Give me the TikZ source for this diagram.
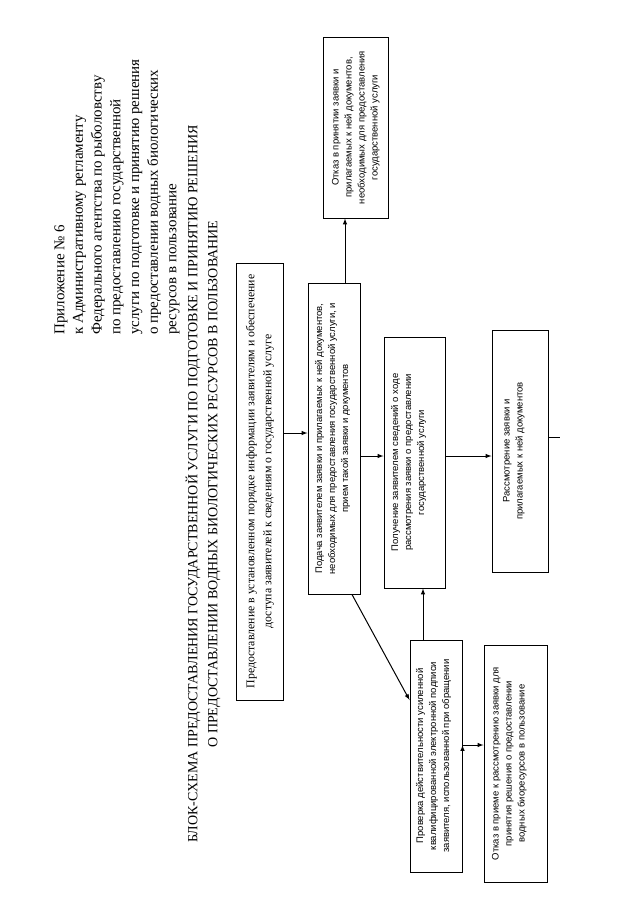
\documentclass[tikz,border=0pt]{standalone}
\usepackage{fontspec}
\setmainfont{Liberation Serif}
\setsansfont{Liberation Sans}
\usepackage{graphicx}
\usepackage{tikz}
\usetikzlibrary{positioning, calc, arrows}

% text turned on its side inside a box: box width, box length, top gap, text
\newcommand{\sidetext}[4]{\rotatebox{90}{\parbox[c][#1][t]{#2}{\centering\vspace*{#3}#4\par}}}

\begin{document}
\begin{tikzpicture}[x=1pt, y=-1pt, >=latex,
    stage node/.style={draw, rectangle, inner sep=0pt, line width=1pt, font=\sffamily\fontsize{9.5}{13}\selectfont},
    link/.style={draw, ->, line width=1pt}]

		\fill[white] (0,0) rectangle (640,905);
		\useasboundingbox (0,0) rectangle (640,905);

		% Header
		\node[anchor=south west, inner sep=0pt, font=\fontsize{15}{18.7}\selectfont] (header) at (51,335) {\rotatebox{90}{\begin{tabular}{@{}l@{}}Приложение № 6\\ к Административному регламенту\\ Федерального агентства по рыболовству\\ по предоставлению государственной\\ услуги по подготовке и принятию решения\\ о предоставлении водных биологических\\ ресурсов в пользование\end{tabular}}};

		\node[inner sep=0pt, font=\fontsize{14}{20}\selectfont] (title) at (203,484) {\rotatebox{90}{\parbox{800pt}{\centering БЛОК-СХЕМА ПРЕДОСТАВЛЕНИЯ ГОСУДАРСТВЕННОЙ УСЛУГИ ПО ПОДГОТОВКЕ И ПРИНЯТИЮ РЕШЕНИЯ\\ О ПРЕДОСТАВЛЕНИИ ВОДНЫХ БИОЛОГИЧЕСКИХ РЕСУРСОВ В ПОЛЬЗОВАНИЕ}}};

		% Nodes
		\node[stage node, font=\rmfamily\fontsize{11.8}{17}\selectfont] (info) at (259.5,481.5) {\sidetext{47pt}{437pt}{10pt}{Предоставление в установленном порядке информации заявителям и обеспечение\\ доступа заявителей к сведениям о государственной услуге}};
		\node[stage node] (submit) at (334,438.5) {\sidetext{52pt}{311pt}{7pt}{Подача заявителем заявки и прилагаемых к ней документов,\\ необходимых для предоставления государственной услуги, и\\ прием такой заявки и документов}};
		\node[stage node] (refuse) at (355.5,127.5) {\sidetext{65pt}{181pt}{9pt}{Отказ в принятии заявки и\\ прилагаемых к ней документов,\\ необходимых для предоставления\\ государственной услуги}};
		\node[stage node] (status) at (414.5,462.5) {\sidetext{61pt}{251pt}{7pt}{Получение заявителем сведений о ходе\\ рассмотрения заявки о предоставлении\\ государственной услуги}};
		\node[stage node] (review) at (520,451) {\sidetext{56pt}{242pt}{11pt}{Рассмотрение заявки и\\ прилагаемых к ней документов}};
		\node[stage node] (check) at (436,756) {\sidetext{52pt}{232pt}{6pt}{Проверка действительности усиленной\\ квалифицированной электронной подписи\\ заявителя, использованной при обращении}};
		\node[stage node] (reject) at (515.5,763.5) {\sidetext{63pt}{237pt}{8pt}{Отказ в приеме к рассмотрению заявки для\\ принятия решения о предоставлении\\ водных биоресурсов в пользование}};

		% Levels of the connections
		\coordinate (l12) at (0,433);
		\coordinate (l23) at (345,0);
		\coordinate (l24) at (0,456);
		\coordinate (l5) at (0,437);
		\coordinate (next) at (560,437);
		\coordinate (d1) at (352,0);
		\coordinate (d2) at (0,700);
		\coordinate (l64) at (423,0);
		\coordinate (l67) at (0,745);

		% Edges (connections)
		\path[link]
		(info.east |- l12) edge (submit.west |- l12)
		(submit.north -| l23) edge (refuse.south -| l23)
		(submit.east |- l24) edge (status.west |- l24)
		(status.east |- l24) edge (review.west |- l24)
		(submit.south -| d1) edge (check.west |- d2)
		(check.north -| l64) edge (status.south -| l64)
		(check.east |- l67) edge (reject.west |- l67);
		\draw[line width=1pt] (review.east |- l5) -- (next);
	\end{tikzpicture}
\end{document}
